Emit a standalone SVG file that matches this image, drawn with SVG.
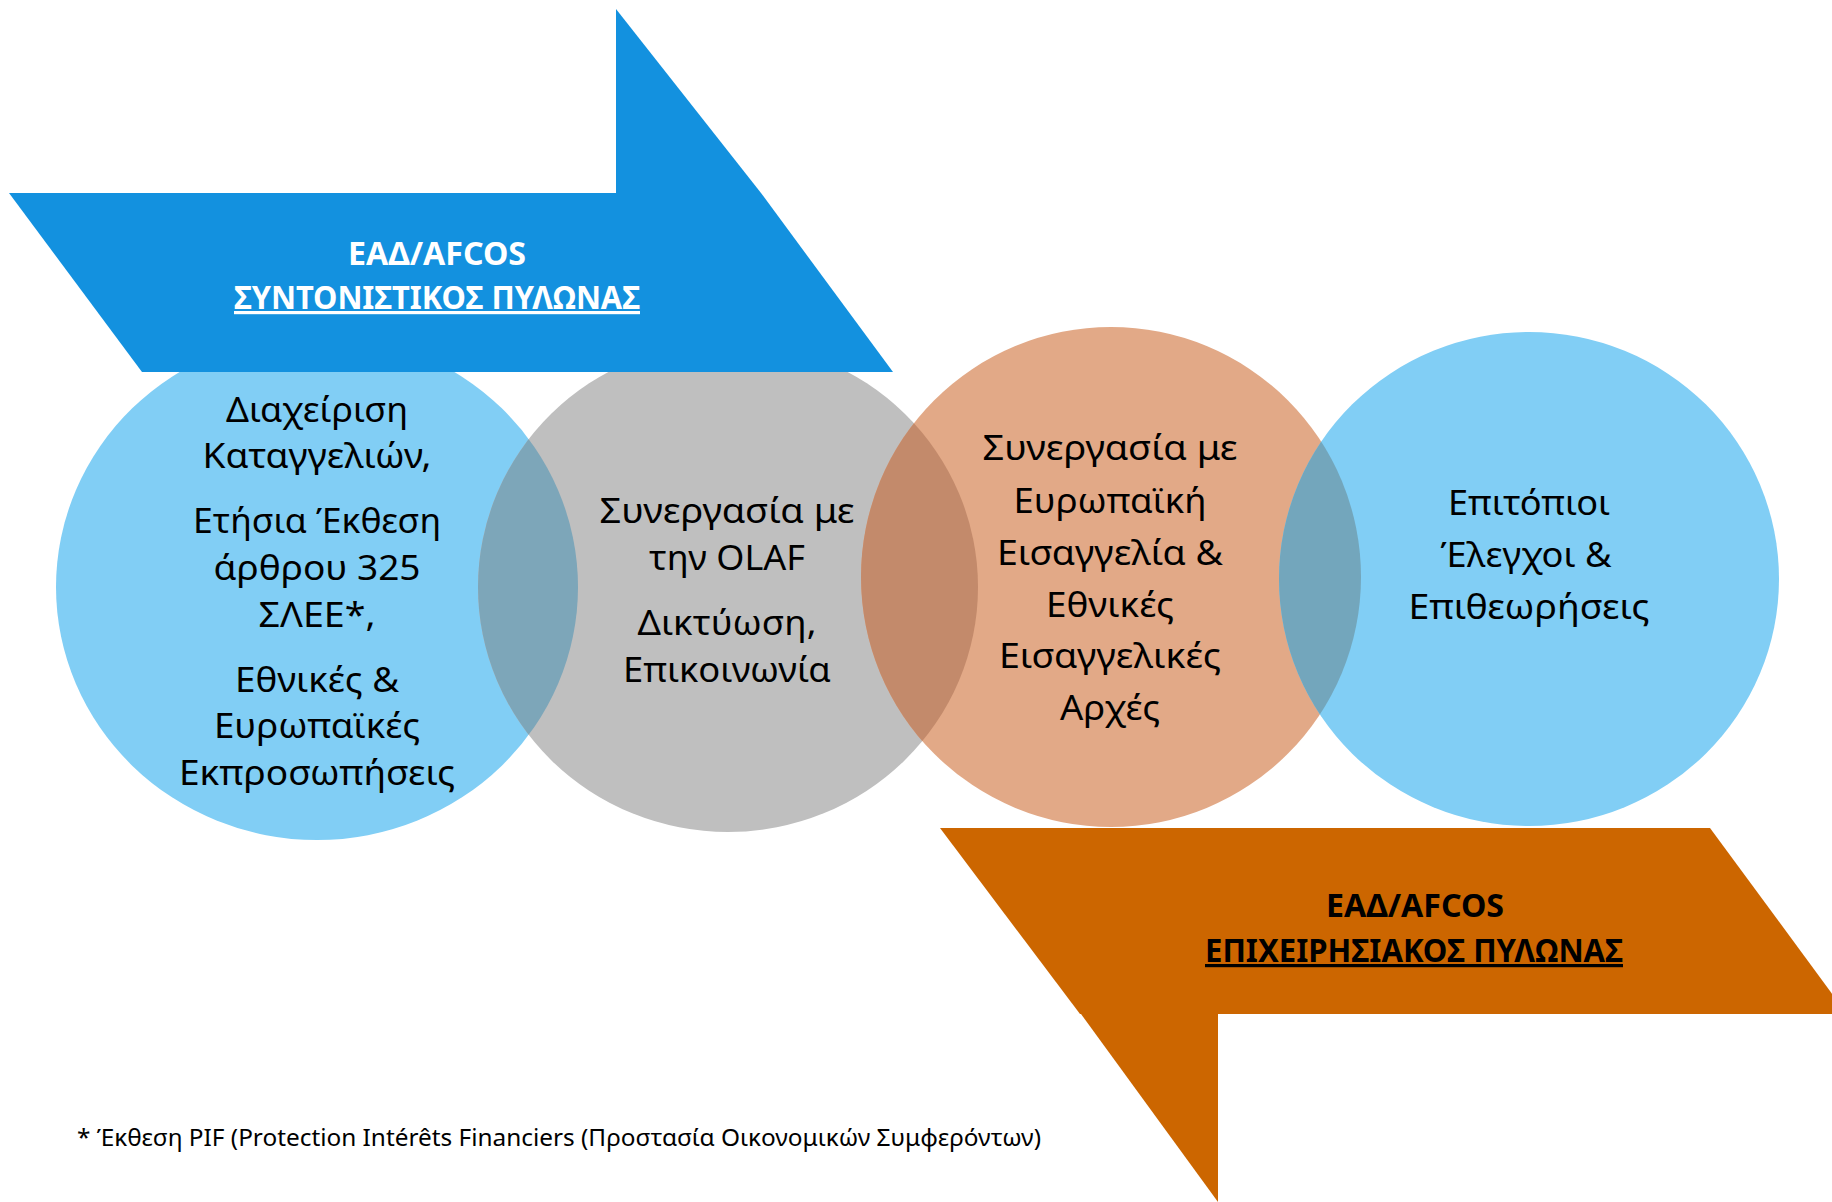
<svg xmlns="http://www.w3.org/2000/svg" width="1832" height="1202" viewBox="0 0 1832 1202">
  <style>
    .ct { font-family: "Noto Sans", "Open Sans", sans-serif; font-size: 34px; fill: #000; text-anchor: middle; }
    .bt { font-family: "Noto Sans", "Open Sans", sans-serif; font-size: 32px; font-weight: bold; text-anchor: middle; }
    .white { fill: #FFFFFF; }
    .black { fill: #000000; }
    .ul { text-decoration: underline; }
    .fn { font-family: "Noto Sans", "Open Sans", sans-serif; font-size: 23px; fill: #000; }
  </style>
  <defs>
    <clipPath id="clipB1"><ellipse cx="317" cy="587" rx="261" ry="253"/></clipPath>
    <clipPath id="clipG"><ellipse cx="728" cy="587" rx="250" ry="245"/></clipPath>
    <clipPath id="clipO"><ellipse cx="1111" cy="577" rx="250" ry="250"/></clipPath>
  </defs>
  <rect width="1832" height="1202" fill="#FFFFFF"/>

  <g id="circle-reporting">
    <ellipse cx="317" cy="587" rx="261" ry="253" fill="#81CEF5"/>
  </g>
  <g id="circle-olaf">
    <ellipse cx="728" cy="587" rx="250" ry="245" fill="#BFBFBF"/>
  </g>
  <g id="circle-prosecution">
    <ellipse cx="1111" cy="577" rx="250" ry="250" fill="#E2A987"/>
  </g>
  <g id="circle-checks">
    <ellipse cx="1529" cy="579" rx="250" ry="247" fill="#81CEF5"/>
  </g>
  <g id="overlaps">
    <ellipse cx="728" cy="587" rx="250" ry="245" fill="#7DA6B9" clip-path="url(#clipB1)"/>
    <ellipse cx="1111" cy="577" rx="250" ry="250" fill="#C38A6B" clip-path="url(#clipG)"/>
    <ellipse cx="1529" cy="579" rx="250" ry="247" fill="#73A6BC" clip-path="url(#clipO)"/>
  </g>

  <g id="text-reporting">
    <text class="ct" x="317" y="422" textLength="182" lengthAdjust="spacingAndGlyphs">Διαχείριση</text>
    <text class="ct" x="317" y="468" textLength="229" lengthAdjust="spacingAndGlyphs">Καταγγελιών,</text>
    <text class="ct" x="317" y="533" textLength="248" lengthAdjust="spacingAndGlyphs">Ετήσια Έκθεση</text>
    <text class="ct" x="317" y="580" textLength="207" lengthAdjust="spacingAndGlyphs">άρθρου 325</text>
    <text class="ct" x="317" y="627" textLength="117" lengthAdjust="spacingAndGlyphs">ΣΛΕΕ*,</text>
    <text class="ct" x="317" y="692" textLength="164" lengthAdjust="spacingAndGlyphs">Εθνικές &amp;</text>
    <text class="ct" x="317" y="738" textLength="206" lengthAdjust="spacingAndGlyphs">Ευρωπαϊκές</text>
    <text class="ct" x="317" y="785" textLength="276" lengthAdjust="spacingAndGlyphs">Εκπροσωπήσεις</text>
  </g>
  <g id="text-olaf">
    <text class="ct" x="727" y="523" textLength="255" lengthAdjust="spacingAndGlyphs">Συνεργασία με</text>
    <text class="ct" x="727" y="570" textLength="156" lengthAdjust="spacingAndGlyphs">την OLAF</text>
    <text class="ct" x="727" y="635" textLength="179" lengthAdjust="spacingAndGlyphs">Δικτύωση,</text>
    <text class="ct" x="727" y="682" textLength="208" lengthAdjust="spacingAndGlyphs">Επικοινωνία</text>
  </g>
  <g id="text-prosecution">
    <text class="ct" x="1110" y="460" textLength="255" lengthAdjust="spacingAndGlyphs">Συνεργασία με</text>
    <text class="ct" x="1110" y="513" textLength="193" lengthAdjust="spacingAndGlyphs">Ευρωπαϊκή</text>
    <text class="ct" x="1110" y="565" textLength="226" lengthAdjust="spacingAndGlyphs">Εισαγγελία &amp;</text>
    <text class="ct" x="1110" y="617" textLength="128" lengthAdjust="spacingAndGlyphs">Εθνικές</text>
    <text class="ct" x="1110" y="668" textLength="222" lengthAdjust="spacingAndGlyphs">Εισαγγελικές</text>
    <text class="ct" x="1110" y="720" textLength="100" lengthAdjust="spacingAndGlyphs">Αρχές</text>
  </g>
  <g id="text-checks">
    <text class="ct" x="1529" y="515" textLength="162" lengthAdjust="spacingAndGlyphs">Επιτόπιοι</text>
    <text class="ct" x="1526" y="567" textLength="171" lengthAdjust="spacingAndGlyphs">Έλεγχοι &amp;</text>
    <text class="ct" x="1529" y="619" textLength="241" lengthAdjust="spacingAndGlyphs">Επιθεωρήσεις</text>
  </g>

  <g id="banner-coordination">
    <polygon points="616,9 761,193 616,193" fill="#1391DF"/>
    <polygon points="9,193 761,193 893,372 142,372" fill="#1391DF"/>
    <text class="bt white" x="437" y="265" textLength="178" lengthAdjust="spacingAndGlyphs">ΕΑΔ/AFCOS</text>
    <text class="bt white ul" x="437" y="309" textLength="406" lengthAdjust="spacingAndGlyphs">ΣΥΝΤΟΝΙΣΤΙΚΟΣ ΠΥΛΩΝΑΣ</text>
  </g>

  <g id="banner-operational">
    <polygon points="940,828 1710,828 1847,1014 1080,1014" fill="#CC6600"/>
    <polygon points="1081,1014 1218,1014 1218,1202" fill="#CC6600"/>
    <text class="bt black" x="1415" y="917" textLength="178" lengthAdjust="spacingAndGlyphs">ΕΑΔ/AFCOS</text>
    <text class="bt black ul" x="1414" y="962" textLength="418" lengthAdjust="spacingAndGlyphs">ΕΠΙΧΕΙΡΗΣΙΑΚΟΣ ΠΥΛΩΝΑΣ</text>
  </g>

  <g id="footnote">
    <text class="fn" x="77" y="1146" textLength="964" lengthAdjust="spacingAndGlyphs">* Έκθεση PIF (Protection Intérêts Financiers (Προστασία Οικονομικών Συμφερόντων)</text>
  </g>
</svg>
